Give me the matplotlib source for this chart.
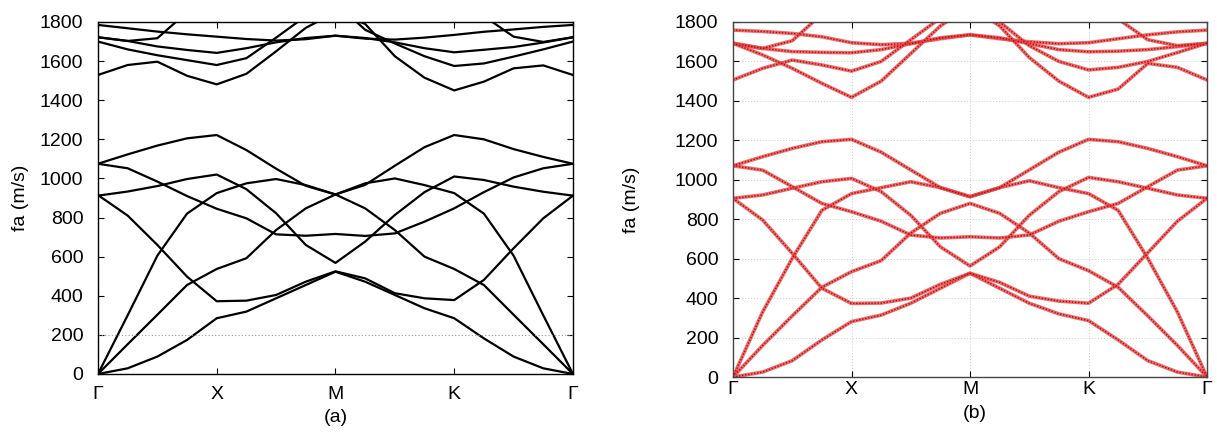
import numpy as np
import matplotlib
matplotlib.use('Agg')
import matplotlib.pyplot as plt

plt.rcParams['font.family'] = ['Liberation Sans', 'DejaVu Sans']

nan = np.nan

# path coordinate, Gamma-X-M-K-Gamma, sampled every quarter segment
k_path = [0, 0.25, 0.5, 0.75, 1, 1.25, 1.5, 1.75, 2, 2.25, 2.5, 2.75, 3, 3.25, 3.5, 3.75, 4]
sym_pos = [0, 1, 2, 3, 4]
sym_labels = ['Γ', 'X', 'M', 'K', 'Γ']
y_ticks = [0, 200, 400, 600, 800, 1000, 1200, 1400, 1600, 1800]

# ---- panel (a) : fa (m/s) ----
a_low1 = [0, 29, 89, 174, 285, 319, 387, 455, 523, 472, 404, 336, 285, 182, 89, 29, 0]
a_low2 = [915, 810, 660, 498, 372, 375, 404, 472, 525, 489, 413, 387, 378, 481, 643, 796, 912]
a_low3 = [0, 152, 303, 455, 537, 592, 736, 847, 918, 847, 736, 600, 537, 455, 303, 152, 0]
a_low4 = [0, 300, 605, 820, 925, 975, 997, 966, 918, 975, 1000, 966, 925, 820, 605, 300, 0]
a_low5 = [912, 933, 961, 997, 1020, 945, 822, 660, 568, 677, 813, 930, 1010, 992, 958, 932, 912]
a_low6 = [1075, 1052, 984, 910, 845, 796, 714, 707, 716, 706, 719, 779, 847, 930, 1005, 1052, 1075]
a_low7 = [1075, 1123, 1168, 1205, 1222, 1145, 1050, 962, 918, 967, 1065, 1160, 1222, 1200, 1150, 1110, 1075]
a_up_s = [1785, 1768, 1751, 1737, 1725, 1713, 1705, 1712, 1730, 1715, 1710, 1720, 1734, 1750, 1762, 1775, 1785]
a_up_r = [1722, 1703, 1675, 1657, 1642, 1666, 1696, 1718, 1730, 1718, 1696, 1666, 1645, 1658, 1672, 1695, 1722]
a_up_u = [1722, 1703, 1717, 1850, nan, nan, nan, nan, nan, nan, nan, nan, nan, 1830, 1725, 1698, 1722]
a_up_p = [1529, 1580, 1597, 1525, 1481, 1535, 1650, 1770, 1850, 1790, 1625, 1515, 1450, 1495, 1563, 1578, 1529]
a_up_q = [1700, 1660, 1630, 1605, 1580, 1615, 1720, 1830, 1900, 1760, 1690, 1625, 1575, 1588, 1623, 1660, 1700]

# ---- panel (b) : fa (m/s) ----
b_low1 = [0, 25, 83, 188, 281, 314, 374, 450, 526, 450, 374, 320, 286, 188, 83, 25, 0]
b_low2 = [906, 796, 627, 450, 373, 375, 400, 470, 526, 480, 410, 385, 374, 470, 630, 790, 906]
b_low3 = [0, 160, 310, 455, 534, 590, 730, 830, 880, 830, 730, 600, 539, 455, 310, 160, 0]
b_low4 = [0, 330, 602, 845, 930, 960, 990, 960, 915, 960, 995, 960, 930, 845, 602, 330, 0]
b_low5 = [906, 923, 957, 990, 1007, 940, 820, 660, 563, 660, 820, 940, 1012, 990, 957, 923, 906]
b_low6 = [1071, 1049, 965, 880, 838, 790, 720, 705, 711, 705, 720, 790, 838, 880, 965, 1049, 1071]
b_low7 = [1071, 1117, 1159, 1193, 1205, 1140, 1050, 960, 914, 960, 1050, 1140, 1205, 1193, 1159, 1117, 1071]
b_up_s = [1759, 1752, 1742, 1725, 1695, 1685, 1692, 1715, 1735, 1715, 1700, 1690, 1695, 1715, 1735, 1750, 1759]
b_up_r = [1692, 1666, 1650, 1646, 1644, 1660, 1690, 1720, 1735, 1720, 1690, 1660, 1649, 1652, 1660, 1675, 1692]
b_up_u = [1692, 1666, 1705, 1840, nan, nan, nan, nan, nan, nan, nan, nan, nan, 1815, 1710, 1680, 1692]
b_up_p = [1506, 1565, 1607, 1582, 1551, 1600, 1710, 1820, 1900, 1800, 1680, 1600, 1557, 1570, 1600, 1645, 1692]
b_up_q = [1692, 1633, 1565, 1489, 1418, 1500, 1640, 1780, 1880, 1780, 1620, 1500, 1418, 1460, 1590, 1570, 1506]

a_bands = [a_low1, a_low2, a_low3, a_low4, a_low5, a_low6, a_low7,
           a_up_s, a_up_r, a_up_u, a_up_p, a_up_q]
b_bands = [b_low1, b_low2, b_low3, b_low4, b_low5, b_low6, b_low7,
           b_up_s, b_up_r, b_up_u, b_up_p, b_up_q]

fig = plt.figure(figsize=(12.17, 4.33), dpi=100)
ax1 = fig.add_axes([0.0805, 0.1363, 0.3903, 0.8129])
ax2 = fig.add_axes([0.6023, 0.1293, 0.3895, 0.8199])

# (a) black solid curves
for band in a_bands:
    ax1.plot(k_path, band, color='black', linewidth=1.6, solid_joinstyle='round')
ax1.axhline(200, color='#999999', linestyle=(0, (1, 2)), linewidth=0.8)

# (b) red crosses along curves
for band in b_bands:
    ax2.plot(k_path, band, color='#ee4444', linewidth=2.6, alpha=0.8, solid_joinstyle='round')
    ax2.plot(k_path, band, color='#a01010', linewidth=1.0, linestyle=(0, (1, 1.2)))
ax2.grid(True, color='#cccccc', linestyle=(0, (1, 2)), linewidth=0.7)
ax2.set_axisbelow(True)

for ax in (ax1, ax2):
    ax.set_xlim(0, 4)
    ax.set_ylim(0, 1800)
    ax.set_xticks(sym_pos)
    ax.set_xticklabels(sym_labels)
    ax.set_yticks(y_ticks)
    ax.set_ylabel('fa (m/s)', fontsize=14)
    ax.tick_params(axis='both', direction='in', top=True, right=True,
                   labelsize=14, length=4, width=0.8)
    ax.tick_params(axis='y', pad=10.5)

ax1.tick_params(axis='x', pad=8.5)
ax2.tick_params(axis='x', pad=3)
ax1.yaxis.set_label_coords(-0.145, 0.5)
ax2.yaxis.set_label_coords(-0.196, 0.5)
for sp in ax1.spines.values():
    sp.set_linewidth(1.0)
for sp in ax2.spines.values():
    sp.set_color('#444444')
    sp.set_linewidth(1.0)

fig.text(0.2756, 0.036, '(a)', ha='center', va='center', fontsize=14)
fig.text(0.801, 0.044, '(b)', ha='center', va='center', fontsize=14)

fig.savefig('out.png', dpi=100)
